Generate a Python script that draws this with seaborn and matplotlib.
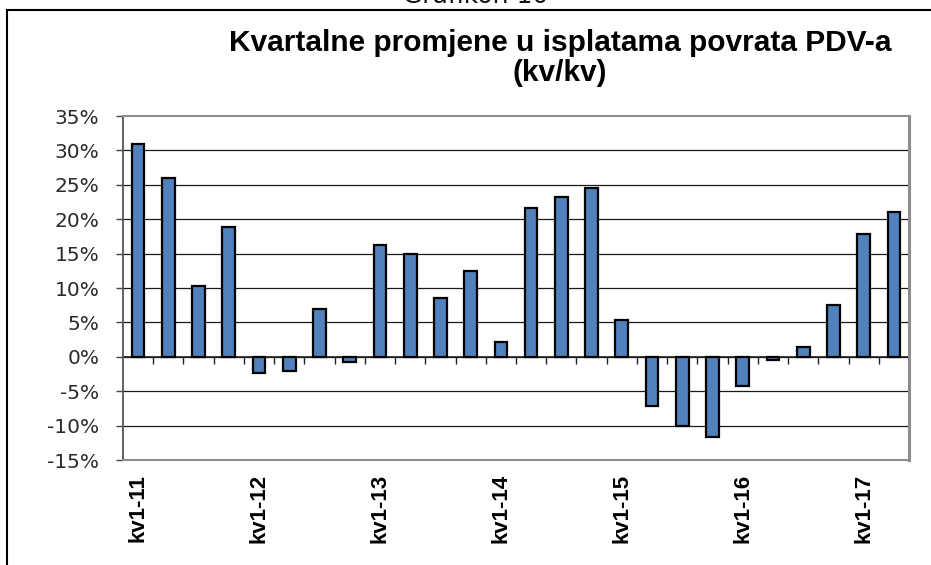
"""Grafikon 10: kvartalne promjene u isplatama povrata PDV-a (kv/kv)."""
import matplotlib
matplotlib.use("Agg")
import matplotlib.pyplot as plt
import matplotlib.patches as mpatches
import pandas as pd
import seaborn as sns

YEARS = ["11", "12", "13", "14", "15", "16", "17"]
QUARTERS = [f"kv{q}-{y}" for y in YEARS for q in (1, 2, 3, 4)][:26]
CHANGE_PCT = [30.9, 26.0, 10.3, 18.8, -2.4, -2.1, 7.0, -0.8,
              16.2, 14.9, 8.6, 12.4, 2.2, 21.6, 23.2, 24.5,
              5.4, -7.1, -10.0, -11.7, -4.3, -0.5, 1.4, 7.5,
              17.8, 21.0]
Y_TICKS = list(range(-15, 40, 5))

BAR_BLUE = "#4F81BD"


def main():
    df = pd.DataFrame({"kvartal": QUARTERS, "promjena": CHANGE_PCT})

    sns.set_style("white")
    plt.rcParams["font.family"] = ["DejaVu Sans"]

    fig = plt.figure(figsize=(9.31, 5.65), dpi=100)
    ax = fig.add_axes([123 / 931, 1 - 460 / 565, 786 / 931, 344 / 565])

    sns.barplot(data=df, x="kvartal", y="promjena", color=BAR_BLUE,
                width=0.42, edgecolor="black", linewidth=1.6, saturation=1,
                ax=ax, zorder=3)

    ax.set_ylim(-15, 35)
    ax.set_xlim(-0.5, len(QUARTERS) - 0.5)
    ax.set_yticks(Y_TICKS)
    ax.set_yticklabels([f"{v}%" for v in Y_TICKS], fontsize=14.5,
                       color="#2a2a2a", family="DejaVu Sans")
    for v in Y_TICKS[1:-1]:
        ax.axhline(v, color="#1a1a1a", lw=0.9, zorder=1)

    # x labels only on first quarters, bold and rotated, below the plot area
    ticks = list(range(0, len(QUARTERS), 4))
    ax.set_xticks(ticks)
    ax.set_xticklabels([QUARTERS[i] for i in ticks], rotation=90, color="black",
                       fontsize=16, fontweight="bold", family="Liberation Sans")
    ax.tick_params(axis="x", length=0, pad=10)
    ax.tick_params(axis="y", direction="out", length=5, width=1,
                   color="#444444", left=True, pad=12)
    ax.set_xlabel("")
    ax.set_ylabel("")

    # category-axis at zero with boundary ticks
    zero_ax = ax.secondary_xaxis(15 / 50)
    zero_ax.set_xticks([i + 0.5 for i in range(len(QUARTERS) - 1)])
    zero_ax.set_xticklabels([])
    zero_ax.tick_params(direction="out", length=5, width=1, color="#222222")
    zero_ax.spines["bottom"].set_color("#222222")
    zero_ax.spines["bottom"].set_linewidth(1.2)

    for side in ("top", "bottom"):
        ax.spines[side].set_color("#8c8c8c")
        ax.spines[side].set_linewidth(1.5)
    ax.spines["right"].set_color("#8c8c8c")
    ax.spines["right"].set_linewidth(2.2)
    ax.spines["left"].set_color("#555555")
    ax.spines["left"].set_linewidth(1.3)

    fig.text(560 / 931, 1 - 43 / 565, "Kvartalne promjene u isplatama povrata PDV-a",
             ha="center", va="center", fontsize=21.5, fontweight="bold",
             color="black", family="Liberation Sans")
    fig.text(560 / 931, 1 - 73 / 565, "(kv/kv)", ha="center", va="center",
             fontsize=21.5, fontweight="bold", color="black",
             family="Liberation Sans")
    fig.text(476 / 931, 1 - 3 / 565, "Grafikon 10", ha="center", va="baseline",
             fontsize=18, color="#111111")

    # outer frame: only top and left edges fall inside the picture
    fig.add_artist(mpatches.Rectangle((7 / 931, -0.1), 1.2, 1.1 - 10 / 565,
                                      transform=fig.transFigure, fill=False,
                                      edgecolor="black", lw=1.5))

    fig.savefig("out.png", dpi=100)
    plt.close(fig)


if __name__ == "__main__":
    main()
